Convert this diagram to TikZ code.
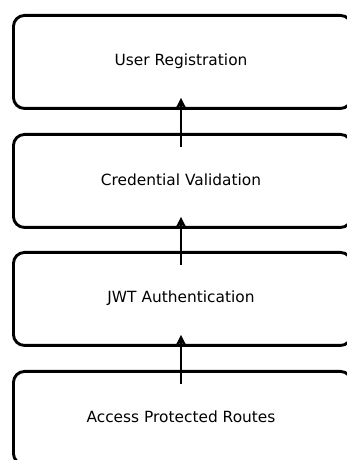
\documentclass[tikz,border=0pt]{standalone}
\usepackage{fontspec}
\setmainfont{DejaVu Sans}
\usetikzlibrary{arrows.meta}
\begin{document}
\begin{tikzpicture}[x=1pt,y=1pt,
  stage/.style={draw=black, line width=2.9pt, rounded corners=11pt,
    minimum width=338pt, minimum height=93pt, anchor=north west,
    inner sep=0pt},
  label/.style={font=\fontsize{15.4}{18}\selectfont},
  flow/.style={line width=2.9pt, -{Stealth[length=10pt,width=10pt,inset=2pt]}}]
  \useasboundingbox (0,0) rectangle (347,460);
  \clip (0,0) rectangle (347,460);
  % four stacked stages, top to bottom
  \node[stage] (reg) at (12,446) {};
  \node[stage] (cred) at (12,327) {};
  \node[stage] (jwt) at (12,209) {};
  \node[stage] (acc) at (12,90) {};
  \node[label] at (181,399) {User Registration};
  \node[label] at (181,280) {Credential Validation};
  \node[label] at (181,161.5) {JWT Authentication};
  \node[label] at (181,43) {Access Protected Routes};
  % arrows point upward from each stage to the one above
  \coordinate (s1) at ([yshift=-14pt]cred.north -| 181,0);
  \coordinate (e1) at ([yshift=12pt]reg.south -| 181,0);
  \coordinate (s2) at ([yshift=-14pt]jwt.north -| 181,0);
  \coordinate (e2) at ([yshift=12pt]cred.south -| 181,0);
  \coordinate (s3) at ([yshift=-14pt]acc.north -| 181,0);
  \coordinate (e3) at ([yshift=12pt]jwt.south -| 181,0);
  \draw[flow] (s1) -- (e1);
  \draw[flow] (s2) -- (e2);
  \draw[flow] (s3) -- (e3);
\end{tikzpicture}
\end{document}
